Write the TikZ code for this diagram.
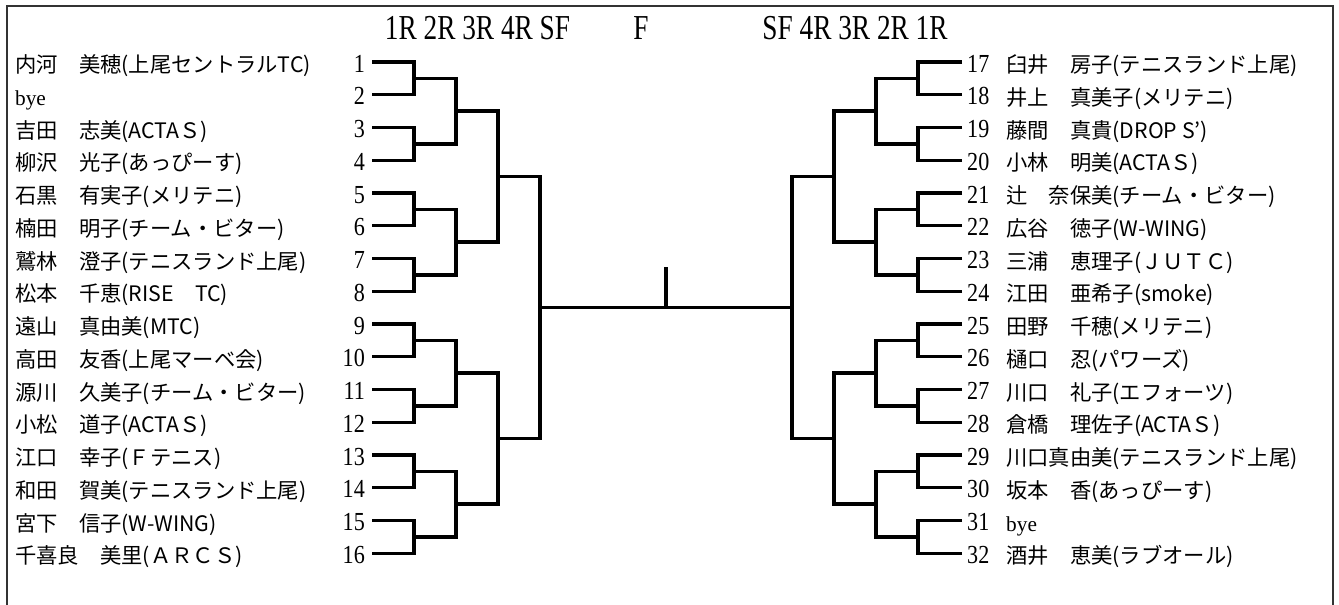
\documentclass[tikz,border=0pt]{standalone}
\usepackage{fontspec}
\usepackage{graphicx}
\setmainfont{Liberation Serif}
\newfontfamily\cjk{Noto Sans CJK JP}
\newcommand{\numsq}[1]{\scalebox{0.85}[1]{#1}}
\tikzset{
  bline/.style={line width=3.3pt, line join=miter},
  numL/.style={anchor=base east, inner sep=0pt, font=\fontsize{26}{26}\selectfont},
  numR/.style={anchor=base west, inner sep=0pt, font=\fontsize{26}{26}\selectfont},
  pname/.style={anchor=base west, inner sep=0pt, font=\cjk\fontsize{21.3}{21.3}\selectfont},
  hdr/.style={anchor=base, inner sep=0pt, font=\fontsize{35}{35}\selectfont},
  frame/.style={line width=1.5pt, black!80},
}
\begin{document}
\begin{tikzpicture}[x=1pt,y=-1pt]
\useasboundingbox (0,0) rectangle (1339,605);
\clip (0,0) rectangle (1339,605);
\fill[white] (0,0) rectangle (1339,605);
\draw[frame] (7,630) -- (7,6) -- (1333,6) -- (1333,630);

% header
\node[hdr] (hl) at (477.5,39) {\scalebox{0.78}[1]{1R 2R 3R 4R SF}};
\node[hdr] (hf) at (641,39) {\scalebox{0.78}[1]{F}};
\node[hdr] (hr) at (855,39) {\scalebox{0.78}[1]{SF 4R 3R 2R 1R}};

% entry points and numbers
\foreach \i in {1,...,16} {
  \pgfmathsetmacro\yy{62+32.75*(\i-1)}
  \pgfmathtruncatemacro\nn{\i+16}
  \coordinate (L0-\i) at (372,\yy);
  \coordinate (R0-\i) at (962,\yy);
  \node[numL] (nl\i) at (365,\yy+10) {\numsq{\i}};
  \node[numR] (nr\i) at (967,\yy+10) {\numsq{\nn}};
}

% left names
\foreach \i/\t in {
  1/{内河　美穂(上尾セントラルTC)},
  2/{\rmfamily bye},
  3/{吉田　志美(ACTAＳ)},
  4/{柳沢　光子(あっぴーす)},
  5/{石黒　有実子(メリテニ)},
  6/{楠田　明子(チーム・ビター)},
  7/{鷲林　澄子(テニスランド上尾)},
  8/{松本　千恵(RISE　TC)},
  9/{遠山　真由美(MTC)},
  10/{高田　友香(上尾マーベ会)},
  11/{源川　久美子(チーム・ビター)},
  12/{小松　道子(ACTAＳ)},
  13/{江口　幸子(Ｆテニス)},
  14/{和田　賀美(テニスランド上尾)},
  15/{宮下　信子(W-WING)},
  16/{千喜良　美里(ＡＲＣＳ)}} {
  \pgfmathsetmacro\yy{62+32.75*(\i-1)}
  \node[pname] (al\i) at (15,\yy+10.5) {\t};
}

% right names
\foreach \i/\t in {
  1/{臼井　房子(テニスランド上尾)},
  2/{井上　真美子(メリテニ)},
  3/{藤間　真貴(DROP S’)},
  4/{小林　明美(ACTAＳ)},
  5/{辻　奈保美(チーム・ビター)},
  6/{広谷　徳子(W-WING)},
  7/{三浦　恵理子(ＪＵＴＣ)},
  8/{江田　亜希子(smoke)},
  9/{田野　千穂(メリテニ)},
  10/{樋口　忍(パワーズ)},
  11/{川口　礼子(エフォーツ)},
  12/{倉橋　理佐子(ACTAＳ)},
  13/{川口真由美(テニスランド上尾)},
  14/{坂本　香(あっぴーす)},
  15/{\rmfamily bye},
  16/{酒井　恵美(ラブオール)}} {
  \pgfmathsetmacro\yy{62+32.75*(\i-1)}
  \node[pname] (ar\i) at (1006,\yy+10.5) {\t};
}

% round coordinates
\foreach \r/\xl/\xr/\n in {1/414/918/8, 2/456/876/4, 3/498/834/2, 4/540/792/1} {
  \foreach \k in {1,...,\n} {
    \pgfmathsetmacro\yy{62+32.75*((\k-1)*2^\r + (2^\r-1)/2)}
    \coordinate (L\r-\k) at (\xl,\yy);
    \coordinate (R\r-\k) at (\xr,\yy);
  }
}

% bracket connectors
\foreach \r/\n in {1/8, 2/4, 3/2, 4/1} {
  \pgfmathtruncatemacro\p{\r-1}
  \foreach \k in {1,...,\n} {
    \pgfmathtruncatemacro\a{2*\k-1}
    \pgfmathtruncatemacro\b{2*\k}
    \draw[bline] (L\p-\a) -| (L\r-\k);
    \draw[bline] (L\p-\b) -| (L\r-\k);
    \draw[bline] (R\p-\a) -| (R\r-\k);
    \draw[bline] (R\p-\b) -| (R\r-\k);
  }
}

% final
\draw[bline] (L4-1) -- (R4-1);
\coordinate (ftop) at (666,267);
\draw[bline] (ftop) -- (ftop |- L4-1);
\end{tikzpicture}
\end{document}
